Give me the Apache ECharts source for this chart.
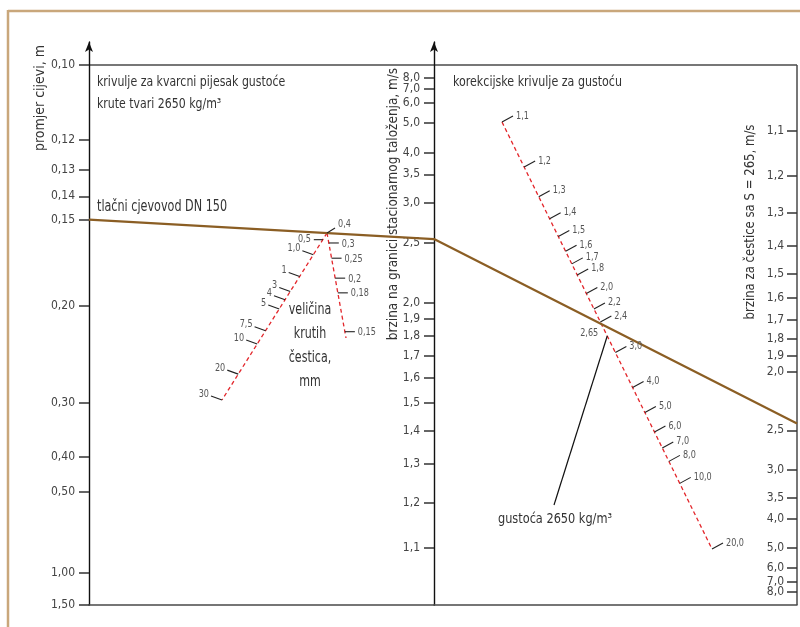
<!DOCTYPE html>
<html><head><meta charset="utf-8">
<script src="https://cdn.jsdelivr.net/npm/echarts@6/dist/echarts.min.js"></script>
<style>html,body{margin:0;padding:0;background:#fff}#c{width:800px;height:627px}</style>
</head><body><div id="c"></div>
<script>
// ---------------- data ----------------
const pipeLabels = ['0,10','0,12','0,13','0,14','0,15','0,20','0,30','0,40','0,50','1,00','1,50'];
const pipeValues = [0.10,0.12,0.13,0.14,0.15,0.20,0.30,0.40,0.50,1.00,1.50];
const limitVelLabels = ['8,0','7,0','6,0','5,0','4,0','3,5','3,0','2,5','2,0','1,9','1,8','1,7','1,6','1,5','1,4','1,3','1,2','1,1'];
const limitVelValues = [8,7,6,5,4,3.5,3,2.5,2,1.9,1.8,1.7,1.6,1.5,1.4,1.3,1.2,1.1];
const velLabels = ['1,1','1,2','1,3','1,4','1,5','1,6','1,7','1,8','1,9','2,0','2,5','3,0','3,5','4,0','5,0','6,0','7,0','8,0'];
const velValues = [1.1,1.2,1.3,1.4,1.5,1.6,1.7,1.8,1.9,2.0,2.5,3.0,3.5,4.0,5.0,6.0,7.0,8.0];
const densityLabels = ['1,1','1,2','1,3','1,4','1,5','1,6','1,7','1,8','2,0','2,2','2,4','3,0','4,0','5,0','6,0','7,0','8,0','10,0','20,0'];
const densityValues = [1.1,1.2,1.3,1.4,1.5,1.6,1.7,1.8,2.0,2.2,2.4,3.0,4.0,5.0,6.0,7.0,8.0,10,20];
const coarseSizeLabels = ['0,5','1,0','1','3','4','5','7,5','10','20','30'];
const coarseSizeGrad = [0.04,0.13,0.26,0.35,0.40,0.455,0.585,0.665,0.845,1.0];
const fineSizeLabels = ['0,4','0,3','0,25','0,2','0,18','0,15'];
const fineSizeGrad = [0,0.095,0.24,0.43,0.57,0.94];
const solutionPipe = 0.15;
const solutionLimitVel = 2.54;
const solutionVel = 2.43;
const solutionDensity = 2.65;
const solutionDensityLabel = '2,65';

// ---------------- layout / scales ----------------
const PX = {left:89, mid:434, right:797, top:42, frameTop:65, bottom:605};
const A = {
  pipe:{v0:0.10, y0:65, v1:1.50, y1:605, exp:0.68},
  mid:{v0:8, y0:78, v1:1.1, y1:548},
  right:{v0:1.1, y0:131, v1:8, y1:592},
  density:{start:[502,122], end:[712,549], v0:1.1, v1:20, shift:0.95},
  size:{pivot:[327,233], coarseEnd:[222,400], fineEnd:[346,338]},
  caption:[554,505]
};
const FONT = '"Liberation Sans Narrow","DejaVu Sans Condensed","Arial Narrow",sans-serif';
const H = PX.bottom - PX.top;
function pipeY(D){const u=x=>Math.pow(x,-A.pipe.exp);return A.pipe.y0+(u(A.pipe.v0)-u(D))/(u(A.pipe.v0)-u(A.pipe.v1))*(A.pipe.y1-A.pipe.y0);}
function recipY(s,v){return s.y0+(1/v-1/s.v0)/(1/s.v1-1/s.v0)*(s.y1-s.y0);}
function densityT(S){const d=A.density;const f=x=>Math.log10(x-d.shift);return (f(S)-f(d.v0))/(f(d.v1)-f(d.v0));}
const toAxis = py => PX.bottom - py;
const toPlot = p => [p[0]-PX.left, PX.bottom-p[1]];
function fmt(pos, labels){return v=>{let b=0,bd=1e9;pos.forEach((p,i)=>{const d=Math.abs(p-v);if(d<bd){bd=d;b=i;}});return labels[b];};}
const even = arr => arr.filter((_,i)=>i%2===0);
const odd = arr => arr.filter((_,i)=>i%2===1);

const pipePos = pipeValues.map(v=>toAxis(pipeY(v)));
const midPos = limitVelValues.map(v=>toAxis(recipY(A.mid,v)));
const rightPos = velValues.map(v=>toAxis(recipY(A.right,v)));

function lerp(a,b,t){return [a[0]+(b[0]-a[0])*t, a[1]+(b[1]-a[1])*t];}

function slantSeries(start,end,tList,labels,opt){
  return {
    type:'custom', xAxisIndex:2, yAxisIndex:3, silent:true, clip:false, z:5,
    data: tList.map((t,i)=>[t,i]),
    renderItem:(params,api)=>{
      const t=api.value(0), i=params.dataIndex;
      const a=api.coord(toPlot(start)), b=api.coord(toPlot(end));
      const p=lerp(a,b,t);
      const v=(opt.vecFn?opt.vecFn(i):opt.vec);
      const e=[p[0]+v[0],p[1]+v[1]];
      const lo=(opt.loFn?opt.loFn(i):opt.lo);
      return {type:'group',children:[
        {type:'line',shape:{x1:p[0],y1:p[1],x2:e[0],y2:e[1]},style:{stroke:'#222',lineWidth:1.1}},
        {type:'text',x:e[0]+lo[0],y:e[1]+lo[1],scaleX:0.9,style:{text:labels[i],fill:'#555',font:opt.size+'px '+FONT,
          align:opt.align,textAlign:opt.align,verticalAlign:'middle',textVerticalAlign:'middle'}}
      ]};
    }
  };
}

const dashed = (pts)=>({type:'line',xAxisIndex:2,yAxisIndex:3,silent:true,clip:false,symbol:'none',z:3,
  data:pts.map(toPlot),lineStyle:{color:'#e3262b',width:1.3,type:[4,3]}});

const densityPoint = lerp(A.density.start,A.density.end,densityT(solutionDensity));

const axisCommon = {type:'value',min:0,max:H,splitLine:{show:false}};
const tickStyle = {lineStyle:{color:'#333',width:1.5},length:10};
const labelStyle = {color:'#444',fontSize:12,fontFamily:FONT,hideOverlap:false,showMinLabel:true,showMaxLabel:true};

// a scale axis; ticks on all graduations, labels split over two axes so none collide
function scaleAxes(grid,position,pos,labels,inside){
  const main = Object.assign({},axisCommon,{gridIndex:grid,position:position,
    axisLine:inside?{show:false}:{show:true,symbol:['none','arrow'],symbolSize:[6,10],lineStyle:{color:'#111',width:1.4}},
    axisTick:Object.assign({show:true,inside:!!inside,customValues:pos},tickStyle),
    axisLabel:Object.assign({show:true,inside:!!inside,customValues:even(pos),margin:inside?13:14,formatter:fmt(pos,labels)},labelStyle)});
  const extra = Object.assign({},axisCommon,{gridIndex:grid,position:position,
    axisLine:{show:false},axisTick:{show:false},
    axisLabel:Object.assign({show:true,inside:!!inside,customValues:odd(pos),margin:inside?13:14,formatter:fmt(pos,labels)},labelStyle)});
  return [main,extra];
}

function txt(x,y,text,size,align,sx,rot){
  return {type:'text',x:x,y:y,scaleX:sx||1,rotation:rot||0,style:{text:text,font:size+'px '+FONT,fill:'#333',
    align:align,verticalAlign:'middle',textAlign:align,textVerticalAlign:'middle'}};
}

const midAxes = scaleAxes(1,'left',midPos,limitVelLabels,false);
const rightAxes = scaleAxes(1,'right',rightPos,velLabels,true);

const option = {
  animation:false,
  grid:[
    {left:PX.left, top:PX.top, width:PX.mid-PX.left, height:H},
    {left:PX.mid, top:PX.top, width:PX.right-PX.mid, height:H},
    {left:PX.left, top:PX.top, width:PX.right-PX.left, height:H}
  ],
  xAxis:[
    {gridIndex:0,type:'value',min:0,max:1,axisLine:{show:true,lineStyle:{color:'#4a4a4a',width:1.5}},axisTick:{show:false},axisLabel:{show:false},splitLine:{show:false}},
    {gridIndex:1,type:'value',min:0,max:1,axisLine:{show:true,lineStyle:{color:'#4a4a4a',width:1.5}},axisTick:{show:false},axisLabel:{show:false},splitLine:{show:false}},
    {gridIndex:2,type:'value',min:0,max:PX.right-PX.left,show:false}
  ],
  yAxis:[
    Object.assign({},axisCommon,{gridIndex:0,position:'left',
      axisLine:{show:true,symbol:['none','arrow'],symbolSize:[6,10],lineStyle:{color:'#111',width:1.4}},
      axisTick:Object.assign({show:true,customValues:pipePos},tickStyle),
      axisLabel:Object.assign({show:true,customValues:pipePos,margin:14,formatter:fmt(pipePos,pipeLabels)},labelStyle)}),
    midAxes[0],
    rightAxes[0],
    {gridIndex:2,type:'value',min:0,max:H,show:false},
    midAxes[1],
    rightAxes[1]
  ],
  graphic:[
    {type:'line',shape:{x1:8,y1:11,x2:800,y2:11},style:{stroke:'#c9a77b',lineWidth:2.5}},
    {type:'line',shape:{x1:8,y1:10,x2:8,y2:627},style:{stroke:'#c9a77b',lineWidth:2.5}},
    {type:'line',shape:{x1:PX.left,y1:PX.frameTop,x2:PX.right,y2:PX.frameTop},style:{stroke:'#4a4a4a',lineWidth:1.5}},
    {type:'line',shape:{x1:PX.right,y1:PX.frameTop,x2:PX.right,y2:PX.bottom},style:{stroke:'#4a4a4a',lineWidth:1.5}},
    txt(97,82,'krivulje za kvarcni pijesak gustoće',14,'left',0.87),
    txt(97,104,'krute tvari 2650 kg/m³',14,'left',0.87),
    txt(453,82,'korekcijske krivulje za gustoću',14,'left',0.88),
    txt(97,207,'tlačni cjevovod DN 150',15,'left',0.83),
    txt(310,310,'veličina',15,'center',0.82),
    txt(310,334,'krutih',15,'center',0.82),
    txt(310,358,'čestica,',15,'center',0.82),
    txt(310,382,'mm',15,'center',0.82),
    txt(555,519,'gustoća 2650 kg/m³',14,'center',0.9),
    txt(40,98,'promjer cijevi, m',14,'center',1,Math.PI/2),
    txt(393,204,'brzina na granici stacionarnog taloženja, m/s',14,'center',0.96,Math.PI/2),
    txt(750,222,'brzina za čestice sa S = 265, m/s',14,'center',0.93,Math.PI/2)
  ],
  series:[
    dashed([A.size.pivot,A.size.coarseEnd]),
    dashed([A.size.pivot,A.size.fineEnd]),
    dashed([A.density.start,A.density.end]),
    {type:'line',xAxisIndex:2,yAxisIndex:3,silent:true,clip:false,symbol:'none',z:4,
     data:[[PX.left,pipeY(solutionPipe)],[PX.mid,recipY(A.mid,solutionLimitVel)],[PX.right,recipY(A.right,solutionVel)]].map(toPlot),
     lineStyle:{color:'#8b5e24',width:2.2}},
    {type:'line',xAxisIndex:2,yAxisIndex:3,silent:true,clip:false,symbol:'none',z:4,
     data:[densityPoint,A.caption].map(toPlot),lineStyle:{color:'#111',width:1.2}},
    slantSeries(A.size.pivot,A.size.coarseEnd,coarseSizeGrad,coarseSizeLabels,{vecFn:i=>i===0?[-9,0]:[-11,-4],loFn:i=>i===0?[-3,0]:[-2,-2],align:'right',size:10}),
    slantSeries(A.size.pivot,A.size.fineEnd,fineSizeGrad,fineSizeLabels,{vecFn:i=>i===0?[8,-5]:[10,0],loFn:i=>i===0?[3,-4]:[3,1],align:'left',size:10}),
    slantSeries(A.density.start,A.density.end,densityValues.map(densityT),densityLabels,{vec:[11,-6],lo:[3,0],align:'left',size:10}),
    {type:'custom',xAxisIndex:2,yAxisIndex:3,silent:true,clip:false,z:5,data:[[densityT(solutionDensity),0]],
     renderItem:(params,api)=>{
       const a=api.coord(toPlot(A.density.start)), b=api.coord(toPlot(A.density.end));
       const p=lerp(a,b,api.value(0));
       return {type:'text',x:p[0]-9,y:p[1]-3,scaleX:0.9,style:{text:solutionDensityLabel,fill:'#555',font:'10px '+FONT,align:'right',textAlign:'right',verticalAlign:'middle',textVerticalAlign:'middle'}};
     }}
  ]
};
const chart = echarts.init(document.getElementById('c'),null,{renderer:'canvas'});
chart.setOption(option);
</script>
</body></html>
